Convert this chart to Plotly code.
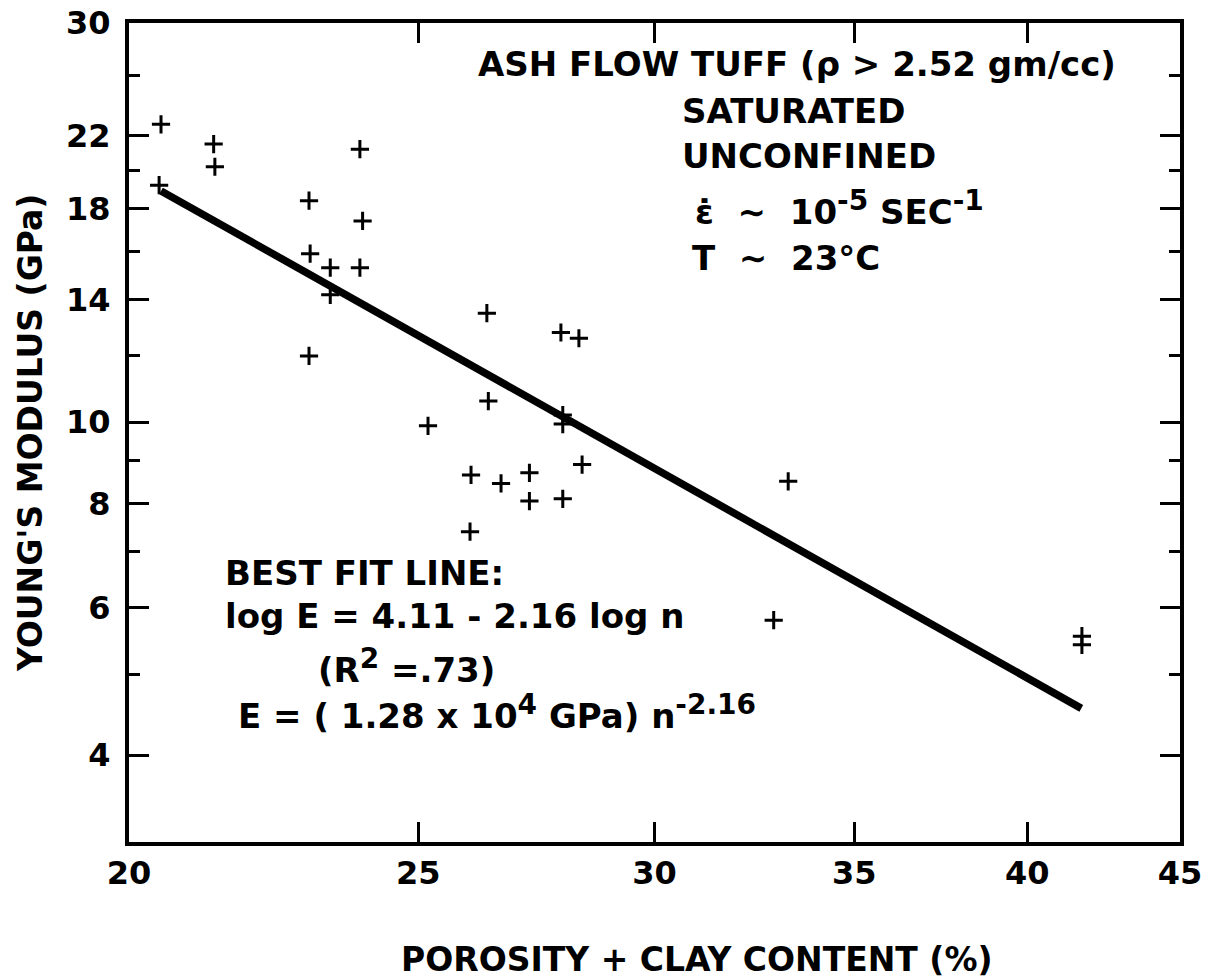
import plotly.graph_objects as go
import math

# ---- data ----
porosity = [20.50, 21.35, 21.37, 23.90, 20.47, 22.98, 23.95, 23.00, 23.36, 23.90,
            23.36, 22.98, 27.91, 28.30, 26.36, 26.39, 25.19, 27.95, 27.95, 28.37,
            27.24, 26.04, 26.65, 27.24, 27.95, 26.02, 33.26, 32.89, 41.72, 41.72]
modulus = [22.7, 21.5, 20.2, 21.2, 19.2, 18.4, 17.4, 15.9, 15.3, 15.3,
           14.2, 12.0, 12.8, 12.6, 13.5, 10.6, 9.9, 10.2, 9.95, 8.9,
           8.7, 8.65, 8.45, 8.05, 8.1, 7.4, 8.5, 5.8, 5.55, 5.42]

fit_n = [20.5, 41.7]
fit_E = [18.9, 4.55]

x_ticks = [20, 25, 30, 35, 40, 45]
y_ticks = [4, 6, 8, 10, 14, 18, 22, 30]
y_minor = [5, 7, 9, 12, 16, 20, 26]

FONT = "DejaVu Sans"

fig = go.Figure()
fig.add_trace(go.Scatter(
    x=fit_n, y=fit_E, mode="lines",
    line=dict(color="black", width=7.5), showlegend=False, hoverinfo="skip"))
fig.add_trace(go.Scatter(
    x=porosity, y=modulus, mode="markers",
    marker=dict(symbol="cross-thin", size=13, color="black",
                line=dict(width=3, color="black")),
    showlegend=False))

OFF = 8  # page body margin
W, H = 1206, 970
L, T = 129 - OFF, 23 - OFF
R = W - (1180 - OFF)
B = H - (842 - OFF)
pw, ph = W - L - R, H - T - B


def px(xp):
    return (xp - OFF - L) / pw


def py(yp):
    return (H - B - (yp - OFF)) / ph


tf = dict(family=FONT, size=32, color="black", weight="bold")

fig.update_xaxes(
    type="log", automargin=False, ticklabeloverflow="allow",
    range=[math.log10(20) - 1e-6, math.log10(45) + 1e-6],
    tickvals=x_ticks, ticktext=[str(v) for v in x_ticks],
    ticks="inside", ticklen=20, tickwidth=2.5, tickcolor="black",
    showline=True, linewidth=4, linecolor="black", mirror="ticks",
    showgrid=False, zeroline=False,
    tickfont=tf, ticklabelstandoff=0,
)
fig.update_yaxes(
    type="log", automargin=False, ticklabeloverflow="allow",
    range=[math.log10(3.15), math.log10(30) + 1e-6],
    tickvals=y_ticks, ticktext=[str(v) for v in y_ticks],
    ticks="inside", ticklen=20, tickwidth=2.5, tickcolor="black",
    minor=dict(tickvals=y_minor, ticks="inside", ticklen=11, tickwidth=2.5,
               tickcolor="black", showgrid=False),
    showline=True, linewidth=4, linecolor="black", mirror="ticks",
    showgrid=False, zeroline=False,
    tickfont=tf, ticklabelstandoff=8,
)

af = dict(family=FONT, size=34, color="black", weight="bold")
NB = "\u00a0"


def ann(text, xpix, ypix, xanchor="left", size=34, textangle=0):
    f = dict(af)
    f["size"] = size
    fig.add_annotation(text=text, xref="paper", yref="paper",
                       x=px(xpix), y=py(ypix), xanchor=xanchor, yanchor="middle",
                       showarrow=False, font=f, textangle=textangle)


def sup(s):
    return "<sup><span style='font-size:28px'>" + s + "</span></sup>"


ann("ASH FLOW TUFF (ρ > 2.52 gm/cc)", 476, 64)
ann("SATURATED", 680, 111)
ann("UNCONFINED", 680, 156)
ann("ε̇" + NB * 2 + "∼" + NB * 2 + "10" + sup("-5") + " SEC" + sup("-1"), 693, 208)
ann("T" + NB * 2 + "∼" + NB * 2 + "23°C", 690, 258)
ann("BEST FIT LINE:", 223, 573)
ann("log E = 4.11 - 2.16 log n", 223, 616)
ann("(R" + sup("2") + " =.73)", 316, 666)
ann("E = ( 1.28 x 10" + sup("4") + " GPa) n" + sup("-2.16"), 236, 712)

# axis titles
ann("POROSITY + CLAY CONTENT (%)", 697, 959, xanchor="center", size=33)
ann("YOUNG'S MODULUS (GPa)", 30, 433, xanchor="center", size=33, textangle=-90)

fig.update_layout(
    width=W, height=H,
    margin=dict(l=L, r=R, t=T, b=B, autoexpand=False),
    paper_bgcolor="white", plot_bgcolor="white",
    font=dict(family=FONT, color="black"),
    showlegend=False,
)

fig.write_html("out.html")
